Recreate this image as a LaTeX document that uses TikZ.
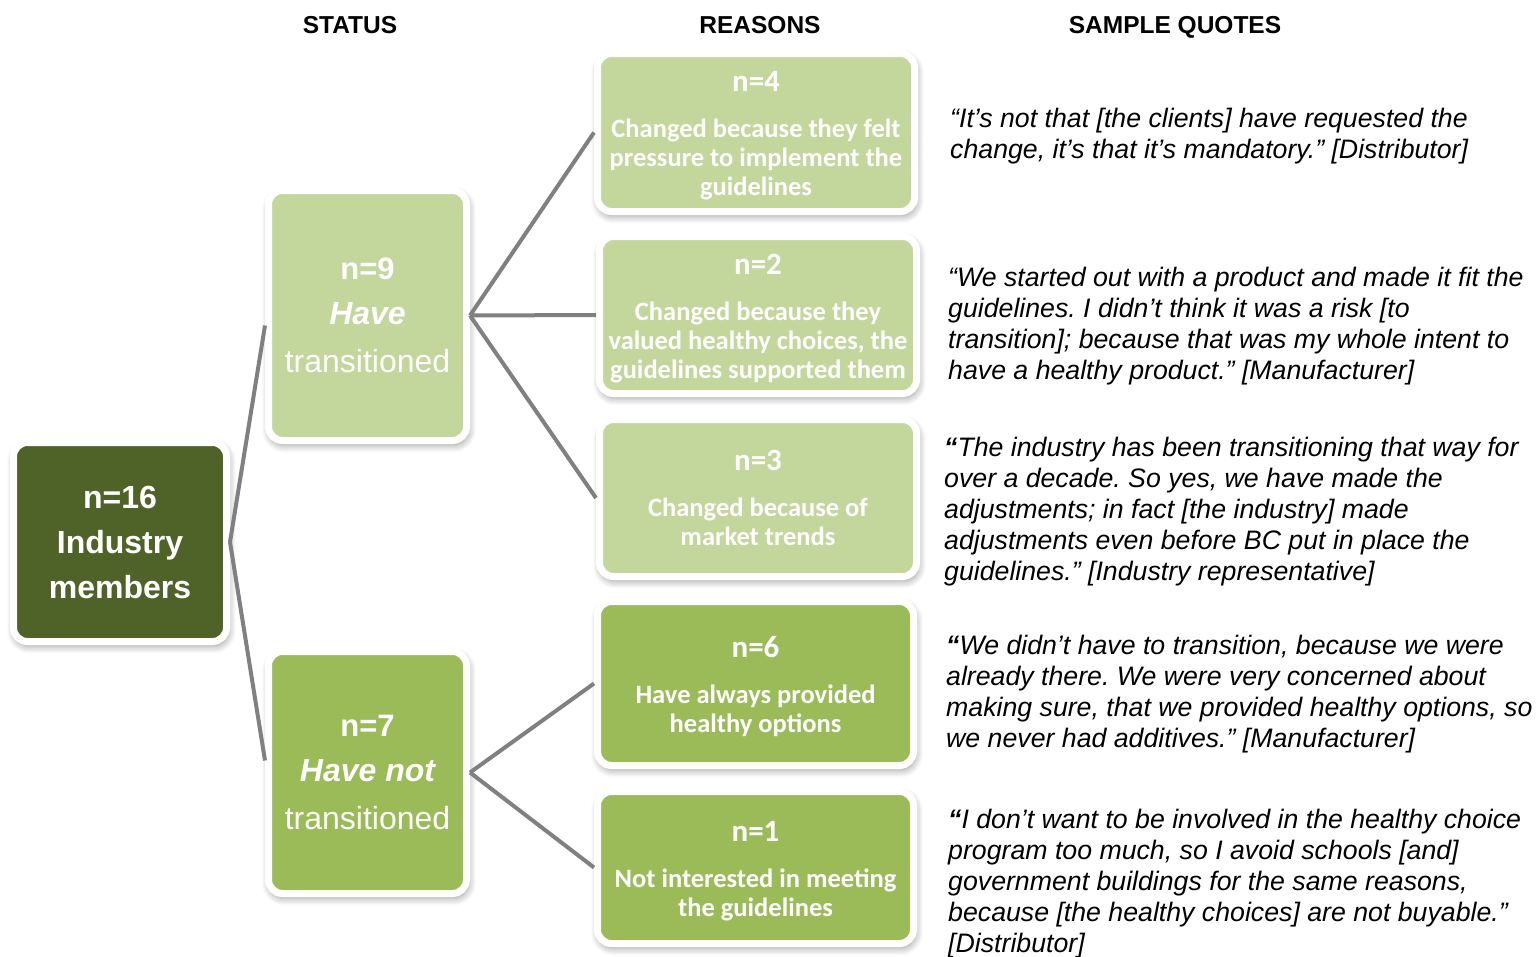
\documentclass[tikz,border=0pt]{standalone}
\usepackage{fontspec}
\setmainfont{Liberation Sans}
\newfontfamily\carlito{Carlito}
\usetikzlibrary{shadows.blur}
\definecolor{darkolive}{HTML}{4F6228}
\definecolor{palegreen}{HTML}{C3D69B}
\definecolor{midgreen}{HTML}{9BBB59}
\definecolor{linkgray}{HTML}{808080}
\frenchspacing
% count line of a reason card; the strut lowers the text block a little
\newcommand{\cardcount}[1]{{\fontsize{31}{29}\selectfont\rule{0pt}{27pt}#1}}
\begin{document}
\begin{tikzpicture}[x=1pt,y=-1pt,
  card/.style={draw=white, line width=7pt, rounded corners=14pt, text=white,
    align=center, inner sep=0pt,
    blur shadow={shadow xshift=1.5pt, shadow yshift=-4pt, shadow blur radius=8pt,
      shadow blur steps=8, shadow opacity=45}},
  rootcard/.style={card, fill=darkolive, minimum width=213pt, minimum height=199pt,
    font=\bfseries\fontsize{32}{45}\selectfont},
  statuscard/.style={card, minimum width=198pt,
    font=\fontsize{32}{45}\selectfont},
  reasoncard/.style={card, minimum width=317pt,
    font=\carlito\bfseries\fontsize{26.5}{29}\selectfont},
  colhead/.style={anchor=base, font=\bfseries\fontsize{24.5}{28}\selectfont},
  quote/.style={anchor=north west, align=left, inner sep=0pt,
    font=\itshape\fontsize{26.7}{31}\selectfont},
  link/.style={draw=linkgray, line width=4pt}
]
\useasboundingbox (0,0) rectangle (1536,956);

% column headings
\node[colhead] (hstatus) at (350,33.5) {STATUS};
\node[colhead] (hreasons) at (760,33.5) {REASONS};
\node[colhead] (hquotes) at (1175,33.5) {SAMPLE QUOTES};

% root
\node[rootcard] (root) at (120,542) {n=16\\Industry\\members};

% status
\node[statuscard, fill=palegreen, minimum height=250pt] (have) at (367.5,315.5)
  {{\bfseries\fontsize{31}{44}\selectfont n=9}\\{\bfseries\itshape Have}\\[3pt]transitioned};
\node[statuscard, fill=midgreen, minimum height=242pt] (havenot) at (367.5,772.5)
  {{\bfseries\fontsize{31}{44}\selectfont n=7}\\{\bfseries\itshape Have not}\\[3pt]transitioned};

% reasons
\node[reasoncard, fill=palegreen, minimum height=158pt] (r4) at (756,132.5)
  {\cardcount{n=4}\\[17pt]Changed because they felt\\pressure to implement the\\guidelines};
\node[reasoncard, fill=palegreen, minimum height=157pt] (r2) at (758,315)
  {\cardcount{n=2}\\[17pt]Changed because they\\valued healthy choices, the\\guidelines supported them};
\node[reasoncard, fill=palegreen, minimum height=157pt] (r3) at (758,498)
  {{\fontsize{31}{29}\selectfont n=3}\\[17pt]Changed because of\\market trends};
\node[reasoncard, fill=midgreen, minimum width=316pt, minimum height=164pt] (r6) at (755.5,683.5)
  {\cardcount{n=6}\\[17pt]Have always provided\\healthy options};
\node[reasoncard, fill=midgreen, minimum width=316pt, minimum height=152pt] (r1) at (755.5,867.5)
  {\cardcount{n=1}\\[17pt]Not interested in meeting\\the guidelines};

% connectors
\draw[link] (root.east) -- ([yshift=-10pt]have.west);
\draw[link] (root.east) -- ([yshift=12pt]havenot.west);
\draw[link] (have.east) -- (r4.west);
\draw[link] (have.east) -- (r2.west);
\draw[link] (have.east) -- (r3.west);
\draw[link] (havenot.east) -- (r6.west);
\draw[link] (havenot.east) -- (r1.west);

% sample quotes
\node[quote] (q4) at (950,107.5)
  {“It’s not that [the clients] have requested the\\change, it’s that it’s mandatory.” [Distributor]};
\node[quote] (q2) at (948,266.5)
  {“We started out with a product and made it fit the\\guidelines. I didn’t think it was a risk [to\\transition]; because that was my whole intent to\\have a healthy product.” [Manufacturer]};
\node[quote] (q3) at (944,436.5)
  {{\bfseries “}The industry has been transitioning that way for\\over a decade. So yes, we have made the\\adjustments; in fact [the industry] made\\adjustments even before BC put in place the\\guidelines.” [Industry representative]};
\node[quote] (q6) at (946,634.5)
  {{\bfseries “}We didn’t have to transition, because we were\\already there. We were very concerned about\\making sure, that we provided healthy options, so\\we never had additives.” [Manufacturer]};
\node[quote] (q1) at (948,808.5)
  {{\bfseries “}I don’t want to be involved in the healthy choice\\program too much, so I avoid schools [and]\\government buildings for the same reasons,\\because [the healthy choices] are not buyable.”\\{}[Distributor]};
\end{tikzpicture}
\end{document}
